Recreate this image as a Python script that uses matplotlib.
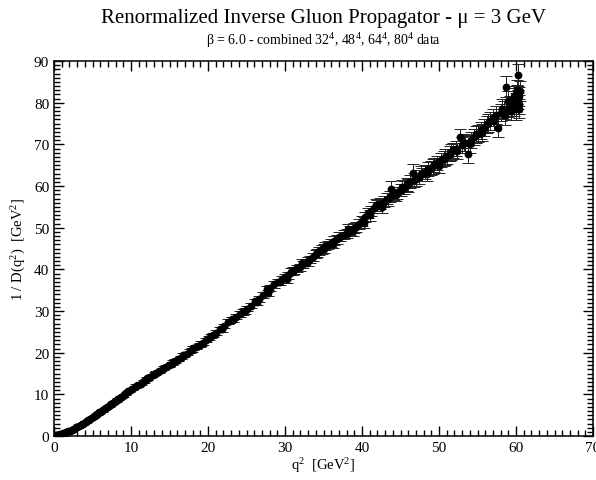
import matplotlib
matplotlib.use("Agg")
import matplotlib.pyplot as plt
from matplotlib.ticker import MultipleLocator

plt.rcParams['font.family'] = ['Liberation Serif', 'DejaVu Serif']
plt.rcParams['mathtext.fontset'] = 'custom'
plt.rcParams['mathtext.rm'] = 'Liberation Serif'
plt.rcParams['mathtext.it'] = 'Liberation Serif:italic'

# set 1
q2_a = [0.0, 0.15, 0.3, 0.45, 0.6, 0.8, 1.0, 1.2, 1.4, 1.6, 1.85, 2.1, 2.35, 2.6, 2.9, 3.2, 3.5, 3.8, 4.1, 4.4,
        4.7, 5.0, 5.3, 5.6, 5.9, 6.2, 6.5, 6.8, 7.1, 7.4, 7.7, 8.0, 8.3, 8.6, 8.9, 9.2, 9.5, 9.8,
        10.1, 10.5, 10.9, 11.3, 11.7, 12.1, 12.5, 12.9, 13.3, 13.7, 14.1, 14.5, 14.9, 15.3, 15.7, 16.1, 16.5, 16.9,
        17.3, 17.7, 18.1, 18.5, 18.9, 19.3, 19.7, 20.1, 20.6, 21.1, 21.6, 22.1, 22.6, 23.1, 23.6, 24.1, 24.6, 25.1,
        25.6, 26.1, 26.6, 27.1, 27.6, 28.1, 28.6, 29.1, 29.6,
        30.0, 30.4, 30.8, 31.2, 31.6, 32.0, 32.4, 32.8, 33.2, 33.6, 34.0, 34.4, 34.8, 35.2, 35.6, 36.0, 36.4, 36.8,
        37.2, 37.6, 38.0, 38.4, 38.8, 39.2, 39.6, 40.0, 40.4, 40.8, 41.2, 41.6, 42.0, 42.4, 42.8, 43.2, 43.6, 43.8,
        44.2, 44.6,
        45.0, 45.4, 45.8, 46.2, 46.6, 47.0, 47.4, 47.8, 48.2, 48.6, 49.0, 49.4, 49.8, 50.2, 50.6, 51.0, 51.4, 51.8,
        52.2, 52.7, 53.0, 53.4, 53.8, 54.2, 54.6, 55.0, 55.4, 55.8, 56.2, 56.6, 57.0, 57.4, 57.7, 58.0, 58.4, 58.7,
        58.9, 59.2, 59.4, 59.6, 59.8, 59.9, 60.0, 60.1, 60.2, 60.3, 60.35, 60.4, 60.45, 60.5]
inv_a = [0.0, 0.08, 0.15, 0.22, 0.3, 0.4, 0.5, 0.62, 0.75, 0.9, 1.1, 1.3, 1.55, 1.8, 2.05, 2.35, 2.7, 3.0, 3.4, 3.75,
         4.1, 4.5, 4.85, 5.25, 5.65, 6.0, 6.4, 6.8, 7.2, 7.6, 8.0, 8.45, 8.85, 9.2, 9.65, 10.0, 10.45, 10.85,
         11.3, 11.7, 12.2, 12.6, 13.1, 13.9, 14.2, 14.6, 15.2, 15.5, 16.1, 16.6, 17.0, 17.3, 18.0, 18.4, 18.8, 19.5,
         19.8, 20.4, 21.2, 21.3, 21.9, 22.4, 23.0, 23.6, 24.2, 24.8, 25.6, 26.4, 27.4, 28.0, 28.6, 29.3, 29.8, 30.6,
         31.3, 32.3, 32.9, 33.8, 35.2, 35.5, 36.4, 37.0, 37.6,
         38.2, 38.6, 39.4, 39.8, 40.3, 40.5, 41.2, 41.6, 42.4, 43.0, 43.6, 44.5, 44.8, 45.6, 45.9, 46.4, 46.9, 47.2,
         47.8, 48.3, 48.6, 49.4, 49.2, 50.2, 50.8, 51.6, 52.6, 53.5, 54.0, 54.8, 55.3, 55.8, 56.2, 57.0, 57.4, 59.4,
         58.0, 58.3,
         59.0, 59.6, 60.4, 61.0, 63.2, 61.6, 62.2, 62.8, 63.4, 64.0, 64.4, 65.0, 65.6, 66.2, 66.6, 67.2, 67.8, 68.6,
         69.0, 71.7, 69.8, 70.4, 67.6, 71.0, 71.8, 72.6, 73.4, 74.0, 74.8, 75.6, 76.4, 77.0, 74.0, 77.6, 78.2, 83.8,
         78.8, 79.4, 78.0, 80.4, 79.0, 81.2, 80.0, 82.0, 86.6, 80.8, 78.6, 81.5, 79.6, 82.8]
err_a = [0.05, 0.05, 0.05, 0.05, 0.05, 0.05, 0.05, 0.06, 0.06, 0.06, 0.07, 0.07, 0.08, 0.08, 0.09, 0.09, 0.1, 0.1, 0.1, 0.12,
         0.12, 0.13, 0.13, 0.14, 0.14, 0.15, 0.15, 0.16, 0.16, 0.17, 0.17, 0.18, 0.18, 0.19, 0.2, 0.2, 0.2, 0.22,
         0.25, 0.25, 0.27, 0.28, 0.3, 0.35, 0.3, 0.3, 0.32, 0.32, 0.34, 0.35, 0.35, 0.36, 0.38, 0.38, 0.4, 0.4,
         0.42, 0.42, 0.45, 0.45, 0.45, 0.48, 0.5, 0.5, 0.52, 0.55, 0.55, 0.58, 0.6, 0.6, 0.62, 0.62, 0.65, 0.65,
         0.68, 0.7, 0.7, 0.72, 0.75, 0.75, 0.78, 0.8, 0.8,
         0.8, 0.8, 0.85, 0.85, 0.85, 0.9, 0.9, 0.9, 0.9, 0.95, 0.95, 0.95, 1.0, 1.0, 1.0, 1.0, 1.05, 1.05,
         1.1, 1.1, 1.1, 1.1, 1.15, 1.15, 1.2, 1.2, 1.2, 1.25, 1.25, 1.25, 1.3, 1.3, 1.3, 1.35, 1.35, 1.9,
         1.4, 1.4,
         1.5, 1.5, 1.55, 1.55, 2.0, 1.6, 1.6, 1.6, 1.65, 1.65, 1.7, 1.7, 1.7, 1.75, 1.75, 1.8, 1.8, 1.8,
         1.85, 2.1, 1.85, 1.9, 2.1, 1.9, 1.95, 1.95, 2.0, 2.0, 2.0, 2.05, 2.05, 2.1, 2.2, 2.1, 2.1, 2.5,
         2.2, 2.2, 2.2, 2.3, 2.3, 2.3, 2.3, 2.3, 2.6, 2.3, 2.3, 2.3, 2.3, 2.3]

# set 2 (higher momenta)
q2_b = [30.2, 31.0, 32.2, 33.0, 34.2, 35.0, 36.2, 37.0, 38.2, 39.0, 40.2, 41.0, 41.8, 42.6, 43.4,
        44.4, 45.2, 46.0, 46.8, 47.6, 48.4, 49.2, 50.0, 50.8, 51.6, 52.4, 53.2, 54.0, 54.8, 55.6,
        56.4, 57.2, 58.2, 58.6, 59.0, 59.5, 59.7, 60.0, 60.15, 60.3]
inv_b = [37.6, 39.6, 41.6, 41.9, 44.0, 45.0, 46.2, 47.8, 49.6, 49.9, 51.2, 53.0, 55.4, 55.0, 56.8,
         57.8, 59.8, 60.2, 61.4, 63.0, 63.0, 64.8, 64.9, 67.0, 68.2, 68.4, 70.4, 70.0, 72.4, 72.8,
         75.2, 75.6, 78.6, 77.0, 80.4, 79.2, 81.6, 78.4, 83.0, 79.8]
err_b = [0.9, 0.9, 0.9, 1.0, 1.0, 1.0, 1.1, 1.1, 1.2, 1.2, 1.3, 1.3, 1.4, 1.4, 1.5,
         1.5, 1.6, 1.6, 1.7, 1.7, 1.8, 1.8, 1.8, 1.9, 1.9, 2.0, 2.0, 2.0, 2.1, 2.1,
         2.2, 2.2, 2.3, 2.3, 2.4, 2.4, 2.4, 2.5, 2.5, 2.5]

# set 3 (lower momenta)
q2_c = [0.5, 1.1, 1.7, 2.3, 3.0, 3.7, 4.5, 5.2, 6.0, 6.9, 7.8, 8.7, 9.6, 10.7, 11.9,
        13.1, 14.3, 15.5, 16.7, 17.9, 19.1, 20.4, 21.8, 23.3, 24.8, 26.3, 27.8, 29.3]
inv_c = [0.25, 0.6, 0.95, 1.45, 2.2, 2.9, 3.85, 4.75, 5.8, 6.9, 8.15, 9.4, 10.7, 12.1, 13.4,
         15.0, 16.4, 17.8, 19.4, 20.6, 22.2, 24.0, 25.6, 27.9, 30.0, 32.2, 34.4, 37.0]
err_c = [0.05, 0.06, 0.07, 0.08, 0.09, 0.1, 0.12, 0.13, 0.15, 0.16, 0.18, 0.2, 0.22, 0.27, 0.3,
         0.33, 0.36, 0.4, 0.42, 0.45, 0.5, 0.52, 0.56, 0.62, 0.66, 0.7, 0.75, 0.8]

W, H = 596, 481
fig = plt.figure(figsize=(W / 100, H / 100), dpi=100)
ax = fig.add_axes([54 / W, (H - 437) / H, (593 - 54) / W, (437 - 62) / H])

for xs, ys, es in [(q2_a, inv_a, err_a), (q2_b, inv_b, err_b), (q2_c, inv_c, err_c)]:
    ax.errorbar(xs, ys, yerr=es, fmt='o', color='black', ecolor='#222222',
                markersize=4.6, elinewidth=0.7, capsize=4, capthick=0.7, zorder=3)

ax.set_xlim(0, 70)
ax.set_ylim(0, 90)
ax.xaxis.set_major_locator(MultipleLocator(10))
ax.xaxis.set_minor_locator(MultipleLocator(1))
ax.yaxis.set_major_locator(MultipleLocator(10))
ax.yaxis.set_minor_locator(MultipleLocator(1))
ax.tick_params(which='both', direction='in', top=True, right=True, labelsize=11, width=1)
ax.tick_params(which='major', length=7)
ax.tick_params(which='minor', length=4)
for s in ax.spines.values():
    s.set_linewidth(1.1)

ax.set_xlabel(r'q$^2$  [GeV$^2$]', fontsize=10.5, labelpad=1)
ax.set_ylabel(r'1 / D(q$^2$)  [GeV$^2$]', fontsize=10.5, labelpad=4)

cx = (54 + 593) / 2 / W
fig.text(cx, 1 - 18 / H, 'Renormalized Inverse Gluon Propagator - μ = 3 GeV', ha='center', va='center', fontsize=15)
fig.text(cx, 1 - 41 / H, r'β = 6.0 - combined 32$^4$, 48$^4$, 64$^4$, 80$^4$ data', ha='center', va='center', fontsize=10)

fig.savefig('out.png', dpi=100)
